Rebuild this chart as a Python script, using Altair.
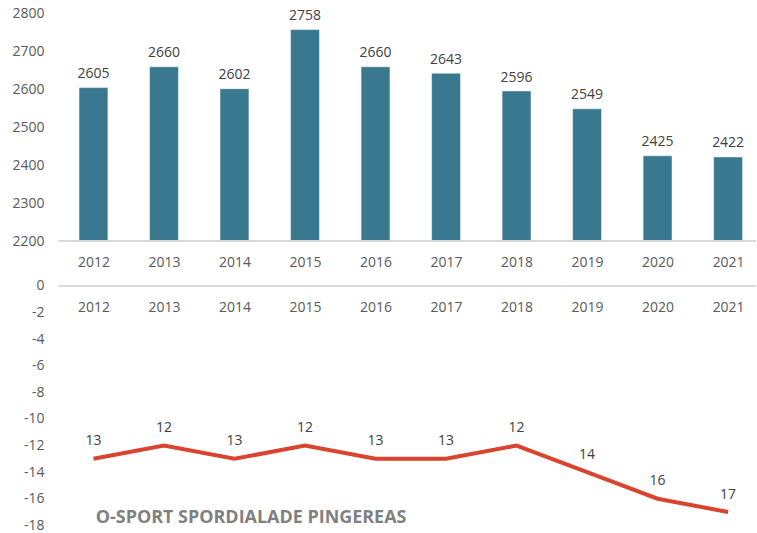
import altair as alt
import pandas as pd

years = [2012, 2013, 2014, 2015, 2016, 2017, 2018, 2019, 2020, 2021]
members = [2605, 2660, 2602, 2758, 2660, 2643, 2596, 2549, 2425, 2422]
ranks = [13, 12, 13, 12, 13, 13, 12, 14, 16, 17]
title_text = "O-SPORT SPORDIALADE PINGEREAS"

df = pd.DataFrame({
    "year": years,
    "members": members,
    "rank": ranks,
    "neg_rank": [-r for r in ranks],
})

FONT = "Open Sans"
LABEL_COLOR = "#595959"
VALUE_COLOR = "#404040"
W = 699
H_TOP = 228
H_BOT = 240

xscale = alt.Scale(domain=[2011.509, 2021.396], nice=False, zero=False, padding=0)


def x_axis(padding, offset=0):
    return alt.Axis(title=None, values=years, tickCount=30, labelExpr="toString(datum.value)",
                    labelAngle=0, domain=False, ticks=False, grid=False, labelOverlap=False,
                    labelFlush=False, offset=offset, labelPadding=padding, labelBaseline="middle",
                    labelFont=FONT, labelFontSize=14, labelColor=LABEL_COLOR)


def y_axis(vals):
    return alt.Axis(title=None, values=vals, tickCount=30, labelExpr="toString(datum.value)",
                    domain=False, ticks=False, grid=False, labelOverlap=False, labelFlush=False,
                    labelPadding=15, labelFont=FONT, labelFontSize=14, labelColor=LABEL_COLOR)


base = alt.Chart(df)

# ---- top: members bars ----
ytop = alt.Y("members:Q", scale=alt.Scale(domain=[2200, 2800], zero=False, nice=False),
             axis=y_axis(list(range(2200, 2801, 100))))

bars = base.mark_bar(size=29, color="#3a7890", stroke="white", strokeOpacity=0.5, strokeWidth=1).encode(
    x=alt.X("year:Q", scale=xscale, axis=x_axis(21)), y=ytop, y2=alt.Y2(datum=2200)
)
bar_labels = base.mark_text(dy=-13.5, baseline="middle", font=FONT, fontSize=14, color=VALUE_COLOR).encode(
    x=alt.X("year:Q", scale=xscale), y=alt.Y("members:Q"), text="members:Q"
)
top_rule = base.mark_rule(color="#d9d9d9", strokeWidth=1).encode(
    y=alt.datum(2200), x=alt.value(0), x2=alt.value(W)
)
top = alt.layer(bars, bar_labels, top_rule).properties(width=W, height=H_TOP)

# ---- bottom: rank line ----
ybot = alt.Y("neg_rank:Q", scale=alt.Scale(domain=[-18, 0], nice=False),
             axis=y_axis(list(range(-18, 1, 2))))

line = base.mark_line(color="#d9432f", strokeWidth=4).encode(
    x=alt.X("year:Q", scale=xscale, axis=x_axis(22, -H_BOT)), y=ybot
)
line_labels = base.mark_text(dy=-17.5, baseline="middle", font=FONT, fontSize=14, color=VALUE_COLOR).encode(
    x=alt.X("year:Q", scale=xscale), y=alt.Y("neg_rank:Q"), text="rank:Q"
)
bot_rule = base.mark_rule(color="#d9d9d9", strokeWidth=1).encode(
    y=alt.datum(0), x=alt.value(0), x2=alt.value(W)
)
title_mark = alt.Chart(pd.DataFrame({"t": [title_text]})).mark_text(
    align="left", baseline="alphabetic", font=FONT, fontSize=18, fontWeight="bold", color="#808080"
).encode(x=alt.value(37), y=alt.value(238), text="t:N")

bottom = alt.layer(bot_rule, line, line_labels, title_mark).properties(width=W, height=H_BOT)

chart = alt.vconcat(top, bottom, spacing=10).properties(
    padding={"left": 11, "top": 6, "right": 0, "bottom": 0},
    background="white",
).configure_view(stroke=None)

chart.save("out.html", embed_options={"renderer": "svg", "actions": False})
